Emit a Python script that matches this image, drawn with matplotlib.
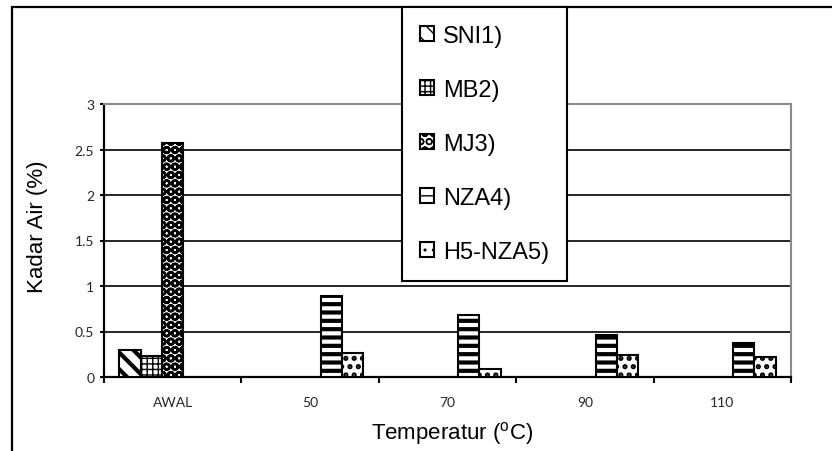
import matplotlib
matplotlib.use("Agg")
import matplotlib.pyplot as plt
from matplotlib.patches import Rectangle
import numpy as np

# data
categories = ["AWAL", "50", "70", "90", "110"]
series = ["SNI1)", "MB2)", "MJ3)", "NZA4)", "H5-NZA5)"]
sni = [0.30, None, None, None, None]
mb = [0.23, None, None, None, None]
mj = [2.57, None, None, None, None]
nza = [None, 0.89, 0.68, 0.46, 0.37]
h5 = [None, 0.26, 0.09, 0.24, 0.22]
values = [sni, mb, mj, nza, h5]
yticks = [0, 0.5, 1, 1.5, 2, 2.5, 3]
ytick_labels = ["0", "0.5", "1", "1.5", "2", "2.5", "3"]

hatches = ["\\\\", "+++", "OO", "--", ".."]
hatch_lw = [3.0, 1.0, 1.8, 3.0, 2.5]

W, H = 832, 452
fig = plt.figure(figsize=(W / 100, H / 100), dpi=100)
fig.patch.set_facecolor("white")

# outer frame (only left and top edges visible in the reference)
fig.add_artist(Rectangle((12 / W, -0.2), 1.3, 1 - 8 / H + 0.2,
                         transform=fig.transFigure, fill=False,
                         edgecolor="black", lw=1.6, clip_on=False))

x0, x1 = 104, 791
y0, y1 = 378, 105
ax = fig.add_axes([x0 / W, 1 - y0 / H, (x1 - x0) / W, (y0 - y1) / H])

x = np.arange(len(categories))
width = 0.155
for i, (name, vals) in enumerate(zip(series, values)):
    pos = [x[j] + (i - 2) * width for j, v in enumerate(vals) if v is not None]
    hts = [v for v in vals if v is not None]
    with plt.rc_context({"hatch.linewidth": hatch_lw[i]}):
        bars = ax.bar(pos, hts, width=width, color="white", edgecolor="black",
                      linewidth=1.5, hatch=hatches[i], label=name, zorder=3)
    for b in bars:
        try:
            b.set_hatch_linewidth(hatch_lw[i])
        except AttributeError:
            pass

ax.set_xlim(-0.5, len(categories) - 0.5)
ax.set_ylim(0, 3)
ax.set_yticks(yticks)
ax.set_yticklabels(ytick_labels, fontfamily="Lato", fontsize=10, color="#262626")
ax.yaxis.grid(True, color="black", lw=1.2, zorder=0)
ax.set_axisbelow(True)

ax.set_xticks(np.arange(len(categories) + 1) - 0.5)
ax.set_xticklabels([])
ax.set_xticks(x, minor=True)
ax.set_xticklabels(categories, minor=True, fontfamily="Lato", fontsize=10,
                   color="#262626")
ax.tick_params(axis="x", which="minor", length=0, pad=14)
ax.tick_params(axis="x", which="major", length=4, width=1.5, direction="out")
ax.tick_params(axis="y", length=3, width=1.5, pad=4)

for s in ["left", "bottom"]:
    ax.spines[s].set_color("black")
    ax.spines[s].set_linewidth(1.6)
for s in ["top", "right"]:
    ax.spines[s].set_color("#8a8a8a")
    ax.spines[s].set_linewidth(1.5)

ax.set_ylabel("Kadar Air (%)", fontfamily="Liberation Sans", fontsize=16,
              va="center")
ax.yaxis.set_label_coords((37 - x0) / (x1 - x0), (y0 - 227) / (y0 - y1))
ax.set_xlabel(r"Temperatur ($^{\mathregular{o}}$C)",
              fontfamily="Liberation Sans", fontsize=16, va="center")
ax.xaxis.set_label_coords((452 - x0) / (x1 - x0), (y0 - 434) / (y0 - y1))

leg = fig.legend(loc="upper left", bbox_to_anchor=(402 / W, 1 - 8 / H),
                 borderaxespad=0, prop={"family": "Liberation Sans", "size": 17},
                 handlelength=0.6, handleheight=0.6, handletextpad=0.4,
                 labelspacing=1.36, borderpad=0.75, fancybox=False,
                 framealpha=1, edgecolor="black")
leg.get_frame().set_linewidth(1.5)

fig.savefig("out.png", dpi=100, facecolor="white")
